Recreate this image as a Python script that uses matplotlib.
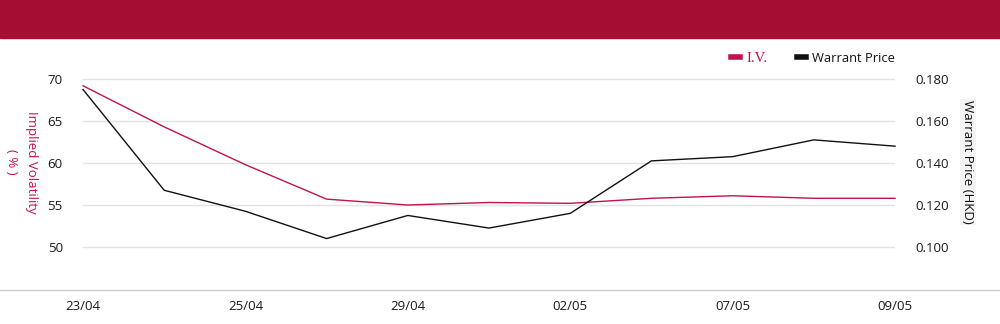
import matplotlib
matplotlib.use("Agg")
import matplotlib.pyplot as plt
from matplotlib.lines import Line2D
from matplotlib.patches import Rectangle

dates = ["23/04", "24/04", "25/04", "28/04", "29/04", "30/04", "02/05", "06/05", "07/05", "08/05", "09/05"]
iv = [69.2, 64.3, 59.8, 55.7, 55.0, 55.3, 55.2, 55.8, 56.1, 55.8, 55.8]
price = [0.175, 0.127, 0.117, 0.104, 0.115, 0.109, 0.116, 0.141, 0.143, 0.151, 0.148]
left_ticks = [50, 55, 60, 65, 70]
right_ticks = [0.100, 0.120, 0.140, 0.160, 0.180]

RED = "#C0134A"
BANNER = "#A50D33"
FONT = "Open Sans"

plt.rcParams["font.family"] = [FONT, "DejaVu Sans"]

fig = plt.figure(figsize=(10, 3.24), dpi=100)
fig.patches.append(Rectangle((0, 1 - 38 / 324), 1, 38 / 324, transform=fig.transFigure,
                             color=BANNER, zorder=0))
fig.lines.append(Line2D([0, 1], [1 - 290 / 324, 1 - 290 / 324], transform=fig.transFigure,
                        color="#cccccc", lw=1))

ax = fig.add_axes([83 / 1000, 34 / 324, 812 / 1000, 215 / 324])
ax2 = ax.twinx()

x = list(range(len(dates)))
ax.plot(x, iv, color=RED, lw=1, clip_on=False, zorder=3)
ax2.plot(x, price, color="#111111", lw=1, clip_on=False, zorder=3)

ax.set_xlim(0, len(dates) - 1)
ax.set_ylim(44.88, 70.48)
ax2.set_ylim(0.0795, 0.1819)

ax.set_yticks(left_ticks)
ax.set_yticklabels([str(v) for v in left_ticks])
ax2.set_yticks(right_ticks)
ax2.set_yticklabels([f"{v:.3f}" for v in right_ticks])
ax.set_xticks(x[::2])
ax.set_xticklabels(dates[::2])

ax.grid(axis="y", color="#e3e3e3", lw=1)
ax.set_axisbelow(True)
for a in (ax, ax2):
    for s in a.spines.values():
        s.set_visible(False)
    a.tick_params(length=0, labelsize=9.5, colors="#1a1a1a")
ax.tick_params(axis="y", pad=14.5)
ax2.tick_params(axis="y", pad=15)
ax.tick_params(axis="x", pad=7)

fig.text(31 / 1000, 1 - 162 / 324, "Implied Volatility", rotation=270, ha="center", va="center",
         color=RED, fontsize=9.5)
fig.text(11 / 1000, 1 - 162 / 324, "( % )", rotation=270, ha="center", va="center",
         color=RED, fontsize=9.5)
fig.text(968 / 1000, 1 - 162 / 324, "Warrant Price (HKD)", rotation=270, ha="center", va="center",
         color="#111111", fontsize=9.5,
         bbox=dict(facecolor="#f3f3f3", edgecolor="none", pad=1))

handles = [Line2D([], [], color=RED, lw=4), Line2D([], [], color="#111111", lw=4)]
leg = fig.legend(handles, ["I.V.", "Warrant Price"], loc="center right",
                 bbox_to_anchor=(907 / 1000, 1 - 58 / 324), ncol=2, frameon=False,
                 handlelength=0.7, handletextpad=0.5, columnspacing=2.3, fontsize=9.3)
leg.get_texts()[0].set_color(RED)
leg.get_texts()[0].set_fontfamily("Liberation Serif")
leg.get_texts()[0].set_fontsize(10.5)
leg.get_texts()[1].set_color("#111111")

fig.savefig("out.png", dpi=100)
